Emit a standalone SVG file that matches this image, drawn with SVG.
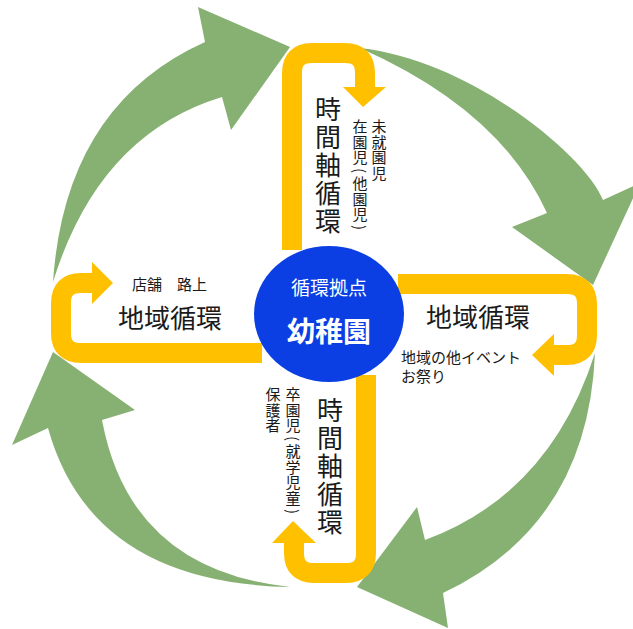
<svg xmlns="http://www.w3.org/2000/svg" width="633" height="629" viewBox="0 0 633 629">
<style>
.g{fill:#87B172;stroke:none}
.y{fill:none;stroke:#FFC000;stroke-width:20;stroke-linejoin:round}
.yh{fill:#FFC000}
.t{font-family:"Noto Sans CJK JP","Noto Sans",sans-serif;fill:#1a1a1a}
.big{font-size:26px}
.sm{font-size:15px}
.v{writing-mode:vertical-rl}
.w{fill:#ffffff}
</style>
<rect width="633" height="629" fill="#ffffff"/>
<g id="connectors">
  <g id="green-arrows">
    <path class="g" d="M53,282 Q65,105 205,42 L198,7 L290,47 L231,130 L222,97 Q98.5,134.5 53,282 Z"/>
    <path class="g" d="M360,48 C470,60 585,155 603,200 L640,183 L593,285 L512,227 L547,213 Q500,110 360,48 Z"/>
    <path class="g" d="M595,353 Q588,524 443,593 L448,628 L357,587 L417,507 L425,540 Q550,494 595,353 Z"/>
    <path class="g" d="M290,587 Q91,583 48,428 L12,445 L53,352 L135,410 L102,420 Q130,570 290,587 Z"/>
  </g>
  <g id="yellow-top">
    <path class="y" d="M292,250 V73 Q292,53 312,53 H345 Q365,53 365,73 V88"/>
    <polygon class="yh" points="343,87 386,87 363,107"/>
  </g>
  <g id="yellow-bottom">
    <path class="y" d="M366,375 V553 Q366,573 346,573 H314 Q294,573 294,553 V542"/>
    <polygon class="yh" points="272,543 316,543 293,521"/>
  </g>
  <g id="yellow-left">
    <path class="y" d="M262,353 H81 Q61,353 61,333 V303 Q61,283 81,283 H93"/>
    <polygon class="yh" points="92,262 92,304 113,283"/>
  </g>
  <g id="yellow-right">
    <path class="y" d="M398,284 H567 Q587,284 587,304 V335 Q587,355 567,355 H553"/>
    <polygon class="yh" points="554,334 554,376 532,355"/>
  </g>
</g>
<g id="hub">
  <ellipse cx="329" cy="314" rx="75" ry="68" fill="#0B3FE3"/>
  <text class="t w" x="329" y="295" font-size="19" text-anchor="middle">循環拠点</text>
  <text class="t w" x="329" y="342" font-size="28" font-weight="bold" text-anchor="middle">幼稚園</text>
</g>
<g id="time-top">
  <text class="t big v" x="328" y="96" letter-spacing="2">時間軸循環</text>
  <text class="t sm v" x="379" y="119" letter-spacing="0.5">未就園児</text>
  <text class="t sm v" x="360" y="119" letter-spacing="0.5">在園<tspan letter-spacing="3">児(</tspan>他園<tspan letter-spacing="3">児)</tspan></text>
</g>
<g id="time-bottom">
  <text class="t big v" x="330" y="397" letter-spacing="2">時間軸循環</text>
  <text class="t sm v" x="293" y="387" letter-spacing="0.5">卒園<tspan letter-spacing="3">児(</tspan>就学児<tspan letter-spacing="3">童)</tspan></text>
  <text class="t sm v" x="273" y="387" letter-spacing="0.5">保護者</text>
</g>
<g id="region-left">
  <text class="t sm" x="132" y="290">店舗　路上</text>
  <text class="t big" x="170" y="328" text-anchor="middle" font-size="27">地域循環</text>
</g>
<g id="region-right">
  <text class="t big" x="478" y="327" text-anchor="middle" font-size="27">地域循環</text>
  <text class="t sm" x="401" y="363">地域の他イベント</text>
  <text class="t sm" x="401" y="382">お祭り</text>
</g>
</svg>
